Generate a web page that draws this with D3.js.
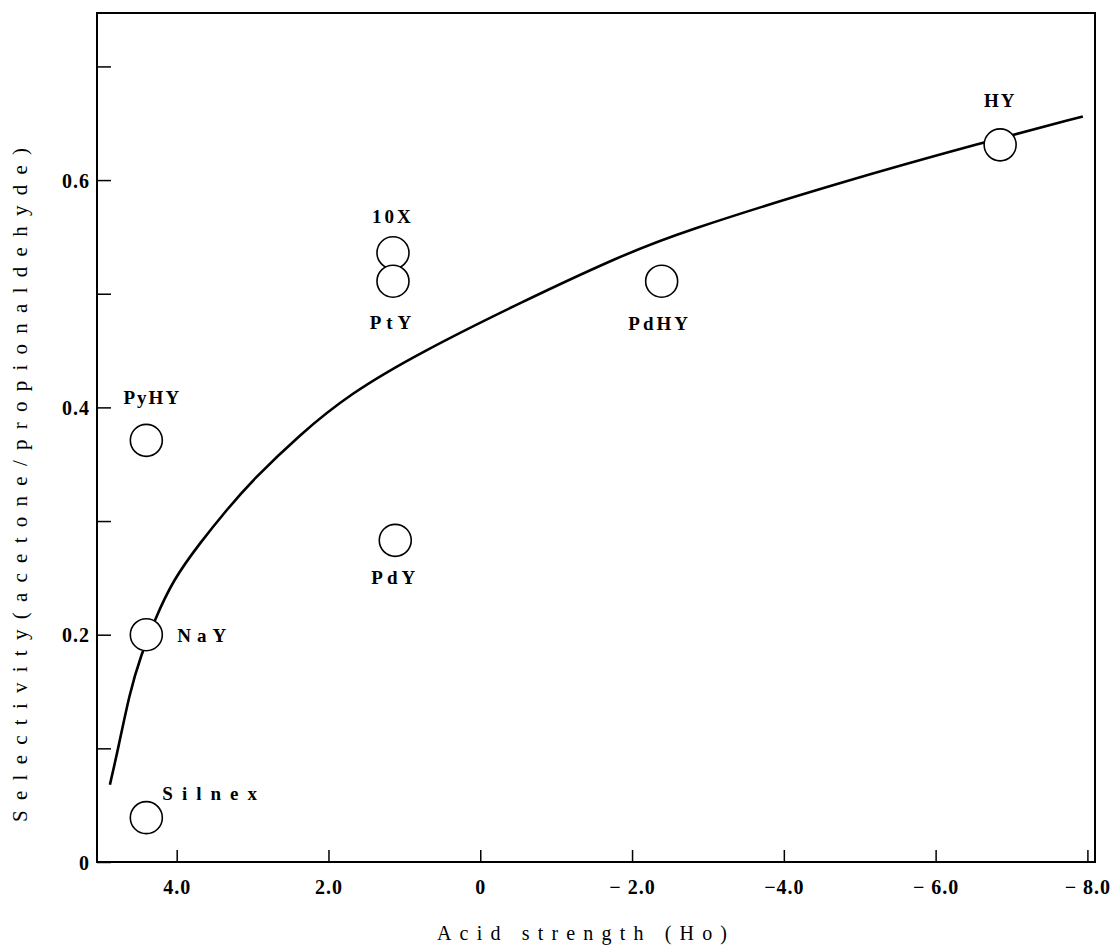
<!DOCTYPE html>
<html>
<head>
<meta charset="utf-8">
<script src="https://cdn.jsdelivr.net/npm/d3@7"></script>
<style>
  body { margin: 0; background: #fff; }
  text { font-family: "Liberation Serif", "DejaVu Serif", serif; fill: #000; }
</style>
</head>
<body>
<svg id="chart"></svg>
<script>
// data
var catalysts = ["Silnex", "NaY", "PyHY", "10X", "PtY", "PdY", "PdHY", "HY"];
var acidStrength = [4.4, 4.4, 4.4, 1.15, 1.15, 1.12, -2.39, -6.85];
var selectivity = [0.039, 0.2, 0.371, 0.536, 0.511, 0.283, 0.511, 0.631];

// fitted curve
var curveHo = [4.88, 4.77, 4.62, 4.47, 4.29, 4.05, 3.69, 3.34, 3.00, 2.38, 1.72, 0.80, -0.52, -1.84, -2.63, -4.74, -6.62, -7.94];
var curveSel = [0.068, 0.100, 0.149, 0.182, 0.213, 0.248, 0.281, 0.310, 0.336, 0.376, 0.412, 0.448, 0.492, 0.533, 0.554, 0.598, 0.633, 0.656];

var xTicks = [4, 2, 0, -2, -4, -6, -8];
var xTickLabels = ["4.0", "2.0", "0", "\u2212 2.0", "\u22124.0", "\u2212 6.0", "\u2212 8.0"];
var yTicks = [0, 0.1, 0.2, 0.3, 0.4, 0.5, 0.6, 0.7];
var yTickLabels = ["0", "", "0.2", "", "0.4", "", "0.6", ""];

// label placement (dx, dy from the circle centre, anchor, letter spacing)
var labelPos = {
  "Silnex": [16, -18, "start", 9],
  "NaY": [31, 7, "start", 6],
  "PyHY": [6, -36, "middle", 2],
  "10X": [0, -30, "middle", 3],
  "PtY": [0, 48, "middle", 5],
  "PdY": [0, 44, "middle", 4],
  "PdHY": [-2, 49, "middle", 3],
  "HY": [0, -38, "middle", 2]
};

var width = 1112, height = 946;
var plotL = 97, plotR = 1095, plotT = 13, plotB = 862;

var svg = d3.select("#chart").attr("width", width).attr("height", height);

var x = d3.scaleLinear().domain([5.05, -8.1]).range([plotL, plotR]);
var y = d3.scaleLinear().domain([0, 0.747]).range([plotB, plotT]);

// frame
svg.append("rect")
  .attr("x", plotL).attr("y", plotT)
  .attr("width", plotR - plotL).attr("height", plotB - plotT)
  .attr("fill", "none").attr("stroke", "#000").attr("stroke-width", 2);

// x axis, ticks pointing inward
var xAxis = d3.axisTop(x).tickValues(xTicks).tickSize(12)
  .tickFormat(function(d, i) { return xTickLabels[i]; });
var gx = svg.append("g").attr("transform", "translate(0," + plotB + ")").call(xAxis);
gx.select(".domain").remove();
gx.selectAll("line").attr("stroke", "#000").attr("stroke-width", 1.5);
gx.selectAll("text")
  .attr("y", 32).attr("dy", 0)
  .style("font-size", "20px").style("font-weight", "bold").style("letter-spacing", "1px");

// y axis, ticks pointing inward
var yAxis = d3.axisRight(y).tickValues(yTicks).tickSize(14)
  .tickFormat(function(d, i) { return yTickLabels[i]; });
var gy = svg.append("g").attr("transform", "translate(" + plotL + ",0)").call(yAxis);
gy.select(".domain").remove();
gy.selectAll("line").attr("stroke", "#000").attr("stroke-width", 1.5);
gy.selectAll("text")
  .attr("x", -7).attr("text-anchor", "end").attr("dy", "0.35em")
  .style("font-size", "20px").style("font-weight", "bold").style("letter-spacing", "1px");

// axis titles
svg.append("text")
  .attr("x", 582).attr("y", 940)
  .attr("text-anchor", "middle")
  .attr("textLength", 290).attr("lengthAdjust", "spacing")
  .style("font-size", "20px")
  .text("Acid strength (Ho)");

svg.append("text")
  .attr("transform", "translate(27,485) rotate(-90)")
  .attr("text-anchor", "middle")
  .attr("textLength", 674).attr("lengthAdjust", "spacing")
  .style("font-size", "21px")
  .text("Selectivity(acetone/propionaldehyde)");

// curve
var line = d3.line()
  .x(function(d) { return x(d[0]); })
  .y(function(d) { return y(d[1]); })
  .curve(d3.curveBasis);

svg.append("path")
  .datum(d3.zip(curveHo, curveSel))
  .attr("d", line)
  .attr("fill", "none").attr("stroke", "#000").attr("stroke-width", 2.6);

// points
var pts = d3.range(catalysts.length).map(function(i) {
  return { name: catalysts[i], ho: acidStrength[i], sel: selectivity[i] };
});

svg.append("g")
  .selectAll("circle")
  .data(pts)
  .enter().append("circle")
  .attr("cx", function(d) { return x(d.ho); })
  .attr("cy", function(d) { return y(d.sel); })
  .attr("r", 16)
  .attr("fill", "#fff").attr("stroke", "#000").attr("stroke-width", 1.6);

svg.append("g")
  .selectAll("text")
  .data(pts)
  .enter().append("text")
  .attr("x", function(d) { return x(d.ho) + labelPos[d.name][0]; })
  .attr("y", function(d) { return y(d.sel) + labelPos[d.name][1]; })
  .attr("text-anchor", function(d) { return labelPos[d.name][2]; })
  .style("font-size", "19px")
  .style("font-weight", "bold")
  .style("letter-spacing", function(d) { return labelPos[d.name][3] + "px"; })
  .text(function(d) { return d.name; });
</script>
</body>
</html>
